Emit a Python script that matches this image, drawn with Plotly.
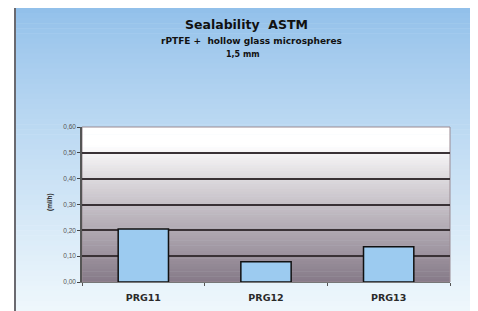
import plotly.graph_objects as go

categories = ["PRG11", "PRG12", "PRG13"]
values = [0.205, 0.078, 0.136]
tick_vals = [0.0, 0.1, 0.2, 0.3, 0.4, 0.5, 0.6]
tick_text = ["0,00", "0,10", "0,20", "0,30", "0,40", "0,50", "0,60"]

# page body has an 8px default margin; lay out in window pixels and offset
OFF = 8
W, H = 478 - OFF, 311 - OFF
L, R, T, B = 82, 450, 127, 282  # plot area in window pixels


def px_x(p):
    return (p - L) / (R - L)


def px_y(p):
    return (B - p) / (B - T)


def lerp(c1, c2, t):
    return "rgb(%d,%d,%d)" % tuple(round(a + (b - a) * t) for a, b in zip(c1, c2))


shapes = []
# outer blue gradient background
top_c, bot_c = (146, 192, 234), (238, 247, 252)
N = 60
y0p, y1p = 8, 311
for i in range(N):
    a = y0p + (y1p - y0p) * i / N
    b = y0p + (y1p - y0p) * (i + 1) / N + 0.6
    t = min(1, (i / (N - 1)) ** 0.85)
    shapes.append(dict(type="rect", xref="paper", yref="paper", layer="below",
                       x0=px_x(15), x1=px_x(474), y0=px_y(b), y1=px_y(a),
                       line=dict(width=0), fillcolor=lerp(top_c, bot_c, t)))
# left dark edge line
shapes.append(dict(type="line", xref="paper", yref="paper", layer="below",
                   x0=px_x(15), x1=px_x(15), y0=px_y(311), y1=px_y(8),
                   line=dict(color="#6a6a70", width=2)))
# plot area gradient (white top -> mauve grey bottom)
pt, pb = (255, 255, 255), (134, 122, 136)
M = 60
for i in range(M):
    a = 0.6 * i / M
    b = 0.6 * (i + 1) / M + 0.002
    frac = 1 - (i + 0.5) / M
    t = min(1, max(0, (frac - 0.12) / 0.88)) ** 0.9
    shapes.append(dict(type="rect", xref="x domain", yref="y", layer="below",
                       x0=0, x1=1, y0=a, y1=b,
                       line=dict(width=0), fillcolor=lerp(pt, pb, t)))

fig = go.Figure(go.Bar(
    x=categories, y=values,
    marker=dict(color="#9ccbf0", line=dict(color="#111111", width=1.5)),
    width=0.41,
))

font = "Liberation Sans, Arial, sans-serif"
tfont = "DejaVu Sans, Arial, sans-serif"
fig.update_layout(
    width=W, height=H,
    margin=dict(l=L - OFF, r=W - (R - OFF), t=T - OFF, b=H - (B - OFF)),
    paper_bgcolor="white", plot_bgcolor="rgba(0,0,0,0)",
    shapes=shapes,
    showlegend=False,
    font=dict(family=font),
    annotations=[
        dict(text="<b>Sealability  ASTM</b>", xref="paper", yref="paper",
             x=px_x(246), y=px_y(24), showarrow=False,
             font=dict(size=12.5, color="#111", family=tfont), xanchor="center", yanchor="middle"),
        dict(text="<b>rPTFE +  hollow glass microspheres</b>", xref="paper", yref="paper",
             x=px_x(251), y=px_y(41), showarrow=False,
             font=dict(size=9, color="#111", family=tfont), xanchor="center", yanchor="middle"),
        dict(text="<b>1,5 mm</b>", xref="paper", yref="paper",
             x=px_x(243), y=px_y(55), showarrow=False,
             font=dict(size=8, color="#111", family=tfont), xanchor="center", yanchor="middle"),
        dict(text="<b>(ml/h)</b>", xref="paper", yref="paper",
             x=px_x(50), y=px_y(202), showarrow=False, textangle=-90,
             font=dict(size=6.5, color="#222"), xanchor="center", yanchor="middle"),
    ],
)
fig.update_yaxes(
    range=[0, 0.6], tickvals=tick_vals, ticktext=tick_text,
    tickfont=dict(size=6.5, color="#555"),
    showgrid=True, gridcolor="#3a3236", gridwidth=2,
    showline=True, linecolor="#555", linewidth=1.5, mirror=False,
    ticks="outside", ticklen=3, tickcolor="#444",
    zeroline=False, automargin=False,
)
fig.update_xaxes(
    tickfont=dict(size=9.5, color="#2a2a2a", family=tfont),
    tickvals=categories, ticktext=["<b>%s</b>" % c for c in categories],
    ticklabelstandoff=7,
    showline=True, linecolor="#777", linewidth=1, mirror=False,
    ticks="outside", tickson="boundaries", ticklen=3, tickcolor="#555",
    showgrid=False, automargin=False,
)
# thin border of plot area
fig.add_shape(type="rect", xref="x domain", yref="y domain", x0=0, x1=1, y0=0, y1=1,
              line=dict(color="#9a8a92", width=1), layer="below")

fig.write_html("out.html")
